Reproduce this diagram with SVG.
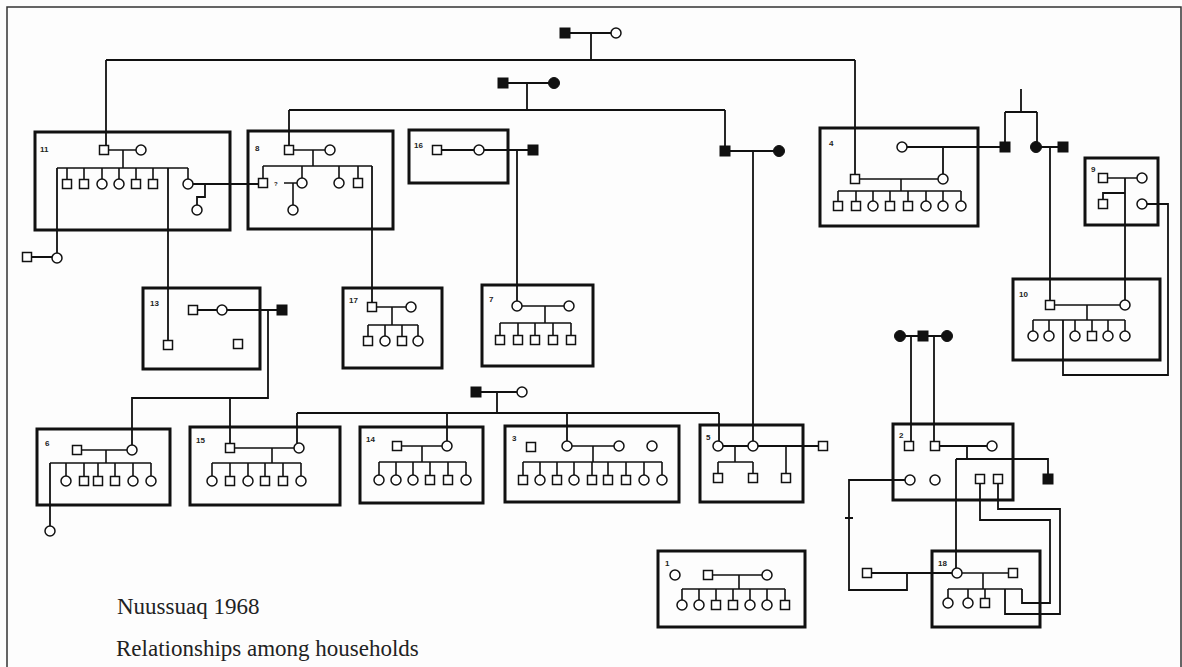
<svg xmlns="http://www.w3.org/2000/svg" xmlns:xlink="http://www.w3.org/1999/xlink" width="1182" height="667" viewBox="0 0 1182 667">
<style>
.bg{fill:#fdfdfd}
.frame{fill:none;stroke:#333;stroke-width:1.5}
.box{fill:none;stroke:#111;stroke-width:3}
.ln{fill:none;stroke:#111;stroke-width:1.6}
.cn{fill:none;stroke:#111;stroke-width:1.8}
.p{fill:#fff;stroke:#111;stroke-width:1.5}
.f{fill:#111;stroke:#111;stroke-width:1}
.lbl{font-family:"Liberation Sans",Arial,sans-serif;font-size:8px;font-weight:bold;fill:#222}
.cap{font-family:"Liberation Serif","Times New Roman",serif;font-size:23px;fill:#222}
</style>
<defs>
<rect id="s" x="-4.5" y="-4.5" width="9" height="9" class="p"/>
<circle id="c" r="5" class="p"/>
<rect id="fs" x="-5" y="-5" width="10" height="10" class="f"/>
<circle id="fc" r="5.5" class="f"/>
</defs>
<rect class="bg" x="0" y="0" width="1182" height="667"/>
<rect class="frame" x="7" y="7" width="1174" height="680"/>

<g id="connectors">
<path class="cn" d="M565,33H616M591,33V60M106,60H855M106,60V146M855,60V175"/>
<path class="cn" d="M503,83H554M527,83V110M289,110H725M289,110V146M725,110V151M725,151H779M753,151V441"/>
<path class="cn" d="M168,168V341M57,168V253M27,257H57M188,184H259M205,184V197H197V205"/>
<path class="cn" d="M372,166V303M437,150H533M517,150V301"/>
<path class="cn" d="M193,310H282M268,310V398H132V445M230,398V444"/>
<path class="cn" d="M476,392H522M497,392V413M297,413H719M297,413V443M447,413V441M567,413V441M719,413V441"/>
<path class="cn" d="M50,463V526"/>
<path class="cn" d="M902,147H1005M943,147V174M1021,89V112M1005,112H1037M1005,112V147M1037,112V147M1036,147H1063M1050,147V301"/>
<path class="cn" d="M1125,178V300M1125,193H1103V200M1146,204H1168V375H1063V320"/>
<path class="cn" d="M900,336H947M911,336V442M934,336V442"/>
<path class="cn" d="M935,446H992M967,446V459M956,459H1048V479M956,459V568M910,480H849V590H907V573M845,518H853M867,573H957"/>
<path class="cn" d="M980,483V520H1050V603H1022V589M998,483V509H1060V614H1005V589"/>
<path class="cn" d="M718,446H823"/>
</g>

<g id="couple-top">
<use href="#fs" x="565" y="33"/><use href="#c" x="616" y="33"/>
</g>
<g id="couple-second">
<use href="#fs" x="503" y="83"/><use href="#fc" x="554" y="83"/>
</g>
<g id="couple-third">
<use href="#fs" x="725" y="151"/><use href="#fc" x="779" y="151"/>
</g>
<g id="couple-bottom">
<use href="#fs" x="476" y="392"/><use href="#c" x="522" y="392"/>
</g>
<g id="couple-right">
<use href="#fs" x="1005" y="147"/><use href="#fc" x="1036" y="147"/><use href="#fs" x="1063" y="147"/>
</g>
<g id="triple">
<use href="#fc" x="900" y="336"/><use href="#fs" x="923" y="336"/><use href="#fc" x="947" y="336"/>
</g>

<g id="h11">
<rect class="box" x="35" y="132" width="195" height="98"/>
<text class="lbl" x="40" y="152">11</text>
<path class="ln" d="M104,150H141M123,150V168M57,168H188M67,168V180M84,168V180M102,168V180M119,168V180M136,168V180M153,168V180M188,168V179"/>
<use href="#s" x="104" y="150"/><use href="#c" x="141" y="150"/>
<use href="#s" x="67" y="184"/><use href="#s" x="84" y="184"/><use href="#c" x="102" y="184"/><use href="#c" x="119" y="184"/><use href="#s" x="136" y="184"/><use href="#s" x="153" y="184"/><use href="#c" x="188" y="184"/>
<use href="#c" x="197" y="210"/>
<use href="#s" x="27" y="257"/><use href="#c" x="57" y="258"/>
</g>

<g id="h8">
<rect class="box" x="248" y="131" width="145" height="98"/>
<text class="lbl" x="255" y="151">8</text>
<path class="ln" d="M289,150H330M313,150V166M263,166H372M263,166V179M302,166V178M339,166V178M358,166V178M284,183H298M293,183V205"/>
<use href="#s" x="289" y="150"/><use href="#c" x="330" y="150"/>
<use href="#s" x="263" y="183"/><use href="#c" x="302" y="183"/><use href="#c" x="339" y="183"/><use href="#s" x="358" y="183"/>
<text class="lbl" x="274" y="186" style="font-size:6px">?</text>
<use href="#c" x="293" y="210"/>
</g>

<g id="h16">
<rect class="box" x="409" y="130" width="99" height="53"/>
<text class="lbl" x="414" y="148">16</text>
<use href="#s" x="437" y="150"/><use href="#c" x="479" y="150"/>
<use href="#fs" x="533" y="150"/>
</g>

<g id="h4">
<rect class="box" x="820" y="128" width="158" height="98"/>
<text class="lbl" x="829" y="146">4</text>
<path class="ln" d="M855,179H943M901,179V191M838,191H961M838,191V202M856,191V202M873,191V202M890,191V202M908,191V202M926,191V202M943,191V202M961,191V202"/>
<use href="#c" x="902" y="147"/>
<use href="#s" x="855" y="179"/><use href="#c" x="943" y="179"/>
<use href="#s" x="838" y="206"/><use href="#s" x="856" y="206"/><use href="#c" x="873" y="206"/><use href="#s" x="890" y="206"/><use href="#s" x="908" y="206"/><use href="#c" x="926" y="206"/><use href="#c" x="943" y="206"/><use href="#c" x="961" y="206"/>
</g>

<g id="h9">
<rect class="box" x="1085" y="158" width="73" height="67"/>
<text class="lbl" x="1091" y="172">9</text>
<path class="ln" d="M1103,178H1142"/>
<use href="#s" x="1103" y="178"/><use href="#c" x="1142" y="178"/>
<use href="#s" x="1103" y="204"/><use href="#c" x="1142" y="204"/>
</g>

<g id="h10">
<rect class="box" x="1013" y="279" width="147" height="81"/>
<text class="lbl" x="1019" y="297">10</text>
<path class="ln" d="M1050,305H1125M1087,305V320M1033,320H1125M1033,320V331M1049,320V331M1075,320V331M1092,320V331M1108,320V331M1125,320V331"/>
<use href="#s" x="1050" y="305"/><use href="#c" x="1125" y="305"/>
<use href="#c" x="1033" y="336"/><use href="#c" x="1049" y="336"/><use href="#c" x="1075" y="336"/><use href="#s" x="1092" y="336"/><use href="#c" x="1108" y="336"/><use href="#c" x="1125" y="336"/>
</g>

<g id="h13">
<rect class="box" x="143" y="288" width="117" height="81"/>
<text class="lbl" x="150" y="306">13</text>
<use href="#s" x="193" y="310"/><use href="#c" x="222" y="310"/>
<use href="#s" x="168" y="345"/><use href="#s" x="238" y="344"/>
<use href="#fs" x="282" y="310"/>
</g>

<g id="h17">
<rect class="box" x="343" y="288" width="99" height="80"/>
<text class="lbl" x="349" y="303">17</text>
<path class="ln" d="M372,307H411M392,307V325M368,325H418M368,325V337M385,325V337M402,325V337M418,325V337"/>
<use href="#s" x="372" y="307"/><use href="#c" x="411" y="307"/>
<use href="#s" x="368" y="341"/><use href="#c" x="385" y="341"/><use href="#s" x="402" y="341"/><use href="#c" x="418" y="341"/>
</g>

<g id="h7">
<rect class="box" x="482" y="285" width="111" height="81"/>
<text class="lbl" x="489" y="302">7</text>
<path class="ln" d="M517,306H569M545,306V323M500,323H571M500,323V336M518,323V336M535,323V336M553,323V336M571,323V336"/>
<use href="#c" x="517" y="306"/><use href="#c" x="569" y="306"/>
<use href="#s" x="500" y="340"/><use href="#s" x="518" y="340"/><use href="#s" x="535" y="340"/><use href="#s" x="553" y="340"/><use href="#s" x="571" y="340"/>
</g>

<g id="h6">
<rect class="box" x="37" y="429" width="133" height="76"/>
<text class="lbl" x="45" y="446">6</text>
<path class="ln" d="M77,450H132M106,450V463M50,463H151M66,463V476M84,463V476M98,463V476M115,463V476M133,463V476M151,463V476"/>
<use href="#s" x="77" y="450"/><use href="#c" x="132" y="450"/>
<use href="#c" x="66" y="481"/><use href="#s" x="84" y="481"/><use href="#s" x="98" y="481"/><use href="#s" x="115" y="481"/><use href="#c" x="133" y="481"/><use href="#c" x="151" y="481"/>
<use href="#c" x="50" y="531"/>
</g>

<g id="h15">
<rect class="box" x="190" y="427" width="150" height="78"/>
<text class="lbl" x="196" y="443">15</text>
<path class="ln" d="M230,448H299M272,448V463M212,463H301M212,463V476M230,463V476M248,463V476M265,463V476M283,463V476M301,463V476"/>
<use href="#s" x="230" y="448"/><use href="#c" x="299" y="448"/>
<use href="#c" x="212" y="481"/><use href="#s" x="230" y="481"/><use href="#c" x="248" y="481"/><use href="#s" x="265" y="481"/><use href="#s" x="283" y="481"/><use href="#c" x="301" y="481"/>
</g>

<g id="h14">
<rect class="box" x="360" y="427" width="123" height="76"/>
<text class="lbl" x="366" y="442">14</text>
<path class="ln" d="M397,446H447M422,446V462M379,462H466M379,462V475M396,462V475M413,462V475M430,462V475M448,462V475M466,462V475"/>
<use href="#s" x="397" y="446"/><use href="#c" x="447" y="446"/>
<use href="#c" x="379" y="480"/><use href="#c" x="396" y="480"/><use href="#c" x="413" y="480"/><use href="#s" x="430" y="480"/><use href="#s" x="448" y="480"/><use href="#c" x="466" y="480"/>
</g>

<g id="h3">
<rect class="box" x="505" y="426" width="174" height="76"/>
<text class="lbl" x="512" y="441">3</text>
<path class="ln" d="M567,446H619M593,446V462M523,462H662M523,462V475M540,462V475M557,462V475M574,462V475M592,462V475M608,462V475M626,462V475M644,462V475M662,462V475"/>
<use href="#s" x="531" y="447"/><use href="#c" x="567" y="446"/><use href="#c" x="619" y="446"/><use href="#c" x="652" y="446"/>
<use href="#s" x="523" y="480"/><use href="#c" x="540" y="480"/><use href="#s" x="557" y="480"/><use href="#c" x="574" y="480"/><use href="#s" x="592" y="480"/><use href="#s" x="608" y="480"/><use href="#s" x="626" y="480"/><use href="#c" x="644" y="480"/><use href="#c" x="662" y="480"/>
</g>

<g id="h5">
<rect class="box" x="700" y="425" width="103" height="77"/>
<text class="lbl" x="706" y="440">5</text>
<path class="ln" d="M735,446V462M718,462H753M718,462V474M753,462V474M786,446V474"/>
<use href="#c" x="718" y="446"/><use href="#c" x="753" y="446"/>
<use href="#s" x="718" y="478"/><use href="#s" x="753" y="478"/><use href="#s" x="786" y="478"/>
<use href="#s" x="823" y="446"/>
</g>

<g id="h2">
<rect class="box" x="893" y="424" width="120" height="76"/>
<text class="lbl" x="899" y="438">2</text>
<use href="#s" x="909" y="446"/><use href="#s" x="935" y="446"/><use href="#c" x="992" y="446"/>
<use href="#c" x="910" y="480"/><use href="#c" x="935" y="480"/><use href="#s" x="980" y="479"/><use href="#s" x="998" y="479"/>
<use href="#fs" x="1048" y="479"/>
</g>

<g id="h1">
<rect class="box" x="658" y="551" width="147" height="76"/>
<text class="lbl" x="665" y="566">1</text>
<path class="ln" d="M708,575H767M739,575V589M682,589H785M682,589V600M699,589V600M716,589V600M733,589V600M750,589V600M767,589V600M785,589V600"/>
<use href="#c" x="675" y="575"/><use href="#s" x="708" y="575"/><use href="#c" x="767" y="575"/>
<use href="#c" x="682" y="605"/><use href="#c" x="699" y="605"/><use href="#s" x="716" y="605"/><use href="#s" x="733" y="605"/><use href="#c" x="750" y="605"/><use href="#c" x="767" y="605"/><use href="#s" x="785" y="605"/>
</g>

<g id="h18">
<rect class="box" x="932" y="551" width="108" height="76"/>
<text class="lbl" x="938" y="566">18</text>
<path class="ln" d="M957,573H1013M983,573V589M948,589H1022M948,589V598M968,589V598M985,589V598"/>
<use href="#c" x="957" y="573"/><use href="#s" x="1013" y="573"/>
<use href="#c" x="948" y="603"/><use href="#c" x="968" y="603"/><use href="#s" x="985" y="603"/>
<use href="#s" x="867" y="573"/>
</g>

<g id="caption">
<text class="cap" x="117" y="614">Nuussuaq 1968</text>
<text class="cap" x="116" y="656">Relationships among households</text>
</g>
</svg>
